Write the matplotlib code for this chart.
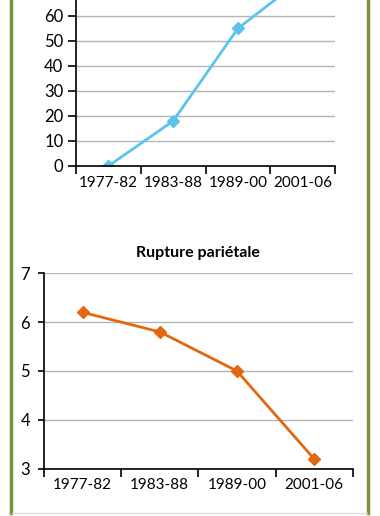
import matplotlib.pyplot as plt
from matplotlib.lines import Line2D

periods = ['1977-82', '1983-88', '1989-00', '2001-06']
top_values = [0, 18, 55, 75]
rupture_values = [6.2, 5.8, 5.0, 3.2]

BLUE = '#5BC4EC'
ORANGE = '#E2670E'
GREEN = '#77933C'
GRID = '#B5B5B5'

plt.rcParams['font.family'] = ['Lato', 'DejaVu Sans']
plt.rcParams['font.size'] = 12


def style_axes(ax, ylim, yticks, ytick_len, ypad):
    x = list(range(len(periods)))
    ax.set_xlim(-0.5, len(periods) - 0.5)
    ax.set_ylim(*ylim)
    ax.set_yticks(yticks)
    ax.yaxis.grid(True, color=GRID, linewidth=1)
    ax.set_axisbelow(True)
    for side in ['top', 'right']:
        ax.spines[side].set_visible(False)
    for side in ['left', 'bottom']:
        ax.spines[side].set_color('black')
        ax.spines[side].set_linewidth(1.2)
    # ticks at category boundaries, labels centered in categories
    ax.set_xticks([i - 0.5 for i in range(len(periods) + 1)])
    ax.set_xticklabels([])
    ax.set_xticks(x, minor=True)
    ax.set_xticklabels(periods, minor=True)
    ax.tick_params(axis='x', which='major', direction='out', length=6, width=1.2)
    ax.tick_params(axis='x', which='minor', length=0, pad=7, labelsize=11)
    ax.tick_params(axis='y', direction='out', length=ytick_len, width=1.2,
                   pad=ypad, labelsize=12)


fig = plt.figure(figsize=(3.8, 5.16), dpi=100)

# top chart (cut off by the figure top)
ax1 = fig.add_axes([0.2, 0.6783, 0.6816, 0.3876])
ax1.plot(range(len(periods)), top_values, color=BLUE, linewidth=2,
         marker='D', markersize=6)
style_axes(ax1, (0, 80), range(0, 81, 10), 6, 3)

# bottom chart
ax2 = fig.add_axes([0.1158, 0.0917, 0.8124, 0.3787])
ax2.plot(range(len(periods)), rupture_values, color=ORANGE, linewidth=2,
         marker='D', markersize=6)
style_axes(ax2, (3, 7), range(3, 8), 4, 6)
ax2.set_title('Rupture pariétale', fontweight='bold', fontsize=11.5, pad=12)

# green frame
fig.add_artist(Line2D([11 / 380, 11 / 380], [0.005, 1], color=GREEN, linewidth=2.5))
fig.add_artist(Line2D([368 / 380, 368 / 380], [0.005, 1], color=GREEN, linewidth=2.5))
fig.add_artist(Line2D([12 / 380, 367 / 380], [3 / 516, 3 / 516], color='#DADFD2', linewidth=1))

fig.savefig('out.png', dpi=100)
